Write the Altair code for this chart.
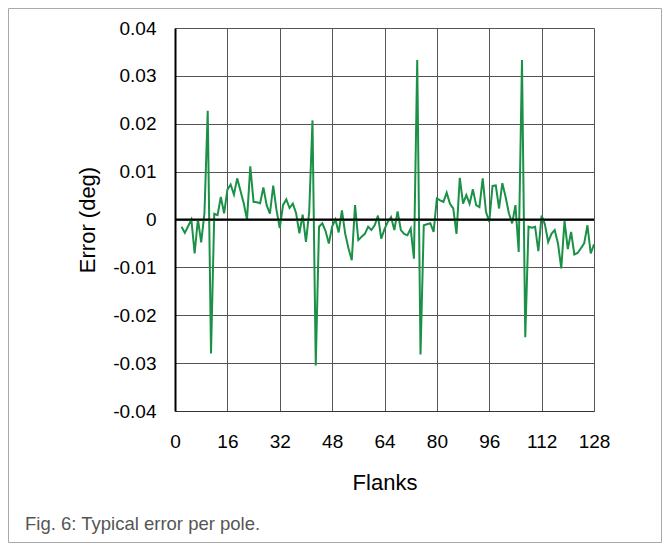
import altair as alt
import pandas as pd

flanks = list(range(2, 129))
error = [
    -0.0015, -0.0028, -0.0014, 0.0000, -0.0071, 0.0001, -0.0048, 0.0013, 0.0227,  # 2-10
    -0.0280, 0.0012, 0.0009, 0.0047, 0.0013, 0.0062, 0.0073, 0.0052, 0.0086, 0.0060,  # 11-20
    0.0034, 0.0000, 0.0111, 0.0037, 0.0036, 0.0034, 0.0067, 0.0030, 0.0012, 0.0071,  # 21-30
    0.0020, -0.0018, 0.0030, 0.0042, 0.0024, 0.0033, 0.0013, -0.0029, 0.0010, -0.0047,  # 31-40
    0.0016, 0.0207, -0.0305, -0.0015, -0.0008, -0.0024, -0.0050, -0.0015, 0.0000, -0.0027,  # 41-50
    0.0019, -0.0030, -0.0060, -0.0085, 0.0030, -0.0043, -0.0036, -0.0030, -0.0015, -0.0022,  # 51-60
    -0.0012, 0.0008, -0.0040, -0.0020, -0.0005, 0.0005, -0.0022, 0.0017, -0.0022, -0.0030,  # 61-70
    -0.0033, -0.0019, -0.0082, 0.0333, -0.0282, -0.0012, -0.0010, -0.0008, -0.0026, 0.0044,  # 71-80
    0.0040, 0.0037, 0.0056, 0.0033, 0.0023, -0.0030, 0.0087, 0.0033, 0.0051, 0.0033,  # 81-90
    0.0063, 0.0030, 0.0026, 0.0086, 0.0016, -0.0005, 0.0070, 0.0071, 0.0023, 0.0076,  # 91-100
    0.0047, 0.0013, -0.0008, 0.0030, -0.0068, 0.0333, -0.0246, -0.0015, -0.0017, -0.0015,  # 101-110
    -0.0066, 0.0008, -0.0010, -0.0047, -0.0030, -0.0022, -0.0050, -0.0102, -0.0003, -0.0062,  # 111-120
    -0.0026, -0.0073, -0.0070, -0.0060, -0.0050, -0.0012, -0.0071, -0.0052,  # 121-128
]

x_ticks = [0, 16, 32, 48, 64, 80, 96, 112, 128]
y_ticks = [-0.04, -0.03, -0.02, -0.01, 0.0, 0.01, 0.02, 0.03, 0.04]
caption = "Fig. 6: Typical error per pole."

df = pd.DataFrame({"flank": flanks, "error": error})

FONT = "Liberation Sans"
W, H = 419, 383

x_enc = alt.X(
    "flank:Q",
    scale=alt.Scale(domain=[0, 128], nice=False),
    axis=alt.Axis(
        values=x_ticks, title="Flanks", grid=True, gridColor="#555", gridWidth=1,
        ticks=False, labelPadding=21, labelFontSize=19, labelFont=FONT, labelColor="black",
        titleFontSize=22, titleFont=FONT, titleFontWeight="normal", titleColor="black",
        titleY=71, titleBaseline="middle", domainColor="#333", domainWidth=1,
        labelFlush=False,
    ),
)
y_enc = alt.Y(
    "error:Q",
    scale=alt.Scale(domain=[-0.04, 0.04], nice=False),
    axis=alt.Axis(
        values=y_ticks, title="Error (deg)", grid=True, gridColor="#555", gridWidth=1,
        ticks=False, labelPadding=19, labelFontSize=19, labelFont=FONT, labelColor="black",
        labelExpr="datum.value == 0 ? '0' : (datum.value < 0 ? '-' : '') + format(abs(datum.value), '.2f')",
        titleFontSize=22, titleFont=FONT, titleFontWeight="normal", titleColor="black",
        titleX=-88, titleY=H / 2, titleAngle=-90, titleAlign="center", titleBaseline="middle",
        domainColor="black", domainWidth=2, labelFlush=False,
    ),
)

line = alt.Chart(df).mark_line(color="#1a9146", strokeWidth=2).encode(x=x_enc, y=y_enc)

zero = alt.Chart(pd.DataFrame({"z": [0.0]})).mark_rule(color="black", strokeWidth=2.2).encode(
    y=alt.Y("z:Q", scale=alt.Scale(domain=[-0.04, 0.04], nice=False))
)

border = alt.Chart(pd.DataFrame({"c": [caption]})).mark_rect(
    fill=None, stroke="#aaa", strokeWidth=1, clip=False
).encode(
    x=alt.value(-166.5), x2=alt.value(486.5), y=alt.value(-19.5), y2=alt.value(514.5)
)

cap = alt.Chart(pd.DataFrame({"c": [caption]})).mark_text(
    align="left", baseline="middle", font=FONT, fontSize=18.5, color="#555"
).encode(
    text="c:N", x=alt.value(-150), y=alt.value(496)
)

chart = alt.layer(border, line, zero, cap).properties(
    width=W, height=H,
    autosize=alt.AutoSizeParams(type="none"),
    padding={"left": 167, "top": 20, "right": 69, "bottom": 133},
).configure_view(stroke="#666", strokeWidth=1).configure(background="white")

chart.save("out.html", embed_options={"renderer": "svg", "actions": False})
